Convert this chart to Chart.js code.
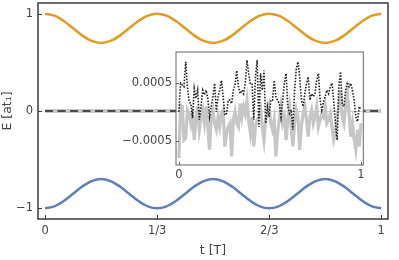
<!DOCTYPE html>
<html><head><meta charset="utf-8">
<script src="https://cdn.jsdelivr.net/npm/chart.js@4"></script>
<style>
html,body{margin:0;padding:0;background:#fff;overflow:hidden}
#wrap{position:relative;width:399px;height:260px}
#main{position:absolute;left:0;top:0;width:399px;height:260px}
#inset{position:absolute;left:120px;top:50px;width:250px;height:130px}
</style></head><body>
<div id="wrap">
<canvas id="main" width="399" height="260"></canvas>
<canvas id="inset" width="250" height="130"></canvas>
</div>
<script>
// ---- data ----
const upperBand = [1, 0.98, 0.925, 0.85, 0.775, 0.72, 0.7, 0.72, 0.775, 0.85, 0.925, 0.98,
  1, 0.98, 0.925, 0.85, 0.775, 0.72, 0.7, 0.72, 0.775, 0.85, 0.925, 0.98,
  1, 0.98, 0.925, 0.85, 0.775, 0.72, 0.7, 0.72, 0.775, 0.85, 0.925, 0.98, 1];
const lowerBand = [-1, -0.98, -0.925, -0.85, -0.775, -0.72, -0.7, -0.72, -0.775, -0.85, -0.925, -0.98,
  -1, -0.98, -0.925, -0.85, -0.775, -0.72, -0.7, -0.72, -0.775, -0.85, -0.925, -0.98,
  -1, -0.98, -0.925, -0.85, -0.775, -0.72, -0.7, -0.72, -0.775, -0.85, -0.925, -0.98, -1];
const zeroBand = [0, 0];
const xTickValues = [0, 1/3, 2/3, 1];
const xTickLabels = ['0', '1/3', '2/3', '1'];
const yTickValues = [-1, 0, 1];
const yTickLabels = ['\u22121', '0', '1'];

// inset values in units of 1e-4
const insetScale = 1e-4;
const insetDotted = [0, 4.9, 4.6, 4.3, 8.6, 4.3, 1.7, 1.4, -1.1, 4.0, 2.3, 3.7, -1.4, 0.9, 3.7, 2.9, 3.7, 2.3, -0.9, 0.9,
  2.6, 4.9, 0, 2.6, 3.7, 5.4, 2.6, -0.6, -0.3, 2.0, 2.0, 1.4, 3.7, 4.6, 7.1, 4.3, 3.1, 3.7, 3.1, 4.9,
  8.9, 6.6, 4.9, 4.9, -1.4, 6.0, 8.9, -2.6, 6.6, 3.7, 7.1, -2.0, 0.9, -0.9, 2.0, 2.0, 5.4, 2.6, 2.0, 1.4,
  -0.9, 2.0, 4.9, 6.6, 0.9, -0.3, 0.3, -3.1, 3.7, 7.4, 8.6, 6.0, 2.0, 0.9, 3.1, 4.9, 6.0, 2.0, 3.1, 2.6,
  3.1, 5.4, 6.6, 2.0, 0.3, 1.7, 2.6, 3.7, 3.1, 4.3, 4.9, 2.0, -2.0, -4.9, 4.3, 6.9, 1.4, 0.9, 3.7, 5.1,
  4.3, 4.9, 3.7, 2.0, -0.9, -1.7, 0.9, 0.3];
const insetGray = [-8.0, 1.1, 0.9, -4.9, -4.6, 0.3, -0.3, -2.0, 0.3, -4.9, -1.4, 0.9, -3.1, -0.9, 0.3, -2.0, 0.9, -2.6, -6.6, -0.9,
  0.3, -2.0, -3.1, -0.9, -2.6, -0.3, 0.3, -6.0, -3.7, -2.6, -2.0, -7.7, -1.4, 0, -2.0, -2.6, 1.4, -0.9, 0.9, -0.3,
  2.0, -1.4, -3.7, -0.9, -6.0, -2.6, -1.4, -0.9, 0.3, -2.6, -4.9, -1.4, -0.3, 0.9, -2.0, -3.1, -1.4, -7.7, -3.7, -1.4,
  0.9, -2.0, -0.9, -4.9, -1.4, 0.9, -2.6, -6.0, -2.0, 0.3, -0.9, -6.6, -2.6, -0.3, 0.9, -1.4, -4.3, -0.9, 0.3, -2.0,
  -0.9, 0.9, -2.6, -1.4, -0.3, -0.9, 0.9, -2.0, -1.4, -0.3, -2.6, -4.9, -3.7, -0.9, 0.9, 3.7, -0.9, -2.0, 0.9, 3.1,
  -0.3, -4.3, -2.0, -4.9, -6.6, -3.1, -6.0, -2.0];
const insetXTickValues = [0, 1];
const insetXTickLabels = ['0', '1'];
const insetYTickValues = [-0.0005, 0, 0.0005];
const insetYTickLabels = ['\u22120.0005', '', '0.0005'];

// ---- helpers ----
const toPts = (arr, k = 1) => arr.map((v, i) => ({x: i / (arr.length - 1), y: v * k}));
const FONT = {family: 'DejaVu Sans', size: 11.5};
const TFONT = {family: 'DejaVu Sans', size: 12.5};
const TXT = '#444';
const noPad = s => { s.paddingTop = 0; s.paddingBottom = 0; s.paddingLeft = 0; s.paddingRight = 0; };

const framePlugin = {
  id: 'frame',
  beforeDraw(chart, args, o) {
    if (!o.fill) return;
    const {ctx, chartArea: a} = chart;
    ctx.save(); ctx.fillStyle = o.fill;
    ctx.fillRect(a.left, a.top, a.right - a.left, a.bottom - a.top);
    ctx.restore();
  },
  afterDatasetsDraw(chart, args, o) {
    const {ctx, chartArea: a} = chart;
    ctx.save();
    ctx.strokeStyle = o.color; ctx.lineWidth = o.width;
    ctx.strokeRect(a.left, a.top, a.right - a.left, a.bottom - a.top);
    ctx.lineWidth = 1;
    const sx = chart.scales.x, sy = chart.scales.y;
    sx.ticks.forEach((t, i) => {
      if (!o.xLabels[i]) return;
      const p = Math.round(sx.getPixelForValue(t.value)) + 0.5;
      ctx.beginPath(); ctx.moveTo(p, a.bottom); ctx.lineTo(p, a.bottom - o.tick); ctx.stroke();
    });
    sy.ticks.forEach((t, i) => {
      if (!o.yLabels[i]) return;
      const p = Math.round(sy.getPixelForValue(t.value)) + 0.5;
      ctx.beginPath(); ctx.moveTo(a.left, p); ctx.lineTo(a.left + o.tick, p); ctx.stroke();
    });
    ctx.restore();
  }
};

// ---- main chart ----
new Chart(document.getElementById('main'), {
  type: 'line',
  data: {
    datasets: [
      {data: toPts(upperBand), borderColor: '#E09C24', borderWidth: 2.5, pointRadius: 0, cubicInterpolationMode: 'monotone'},
      {data: toPts(lowerBand), borderColor: '#5E81B5', borderWidth: 2.5, pointRadius: 0, cubicInterpolationMode: 'monotone'},
      {data: toPts(zeroBand), borderColor: '#4a4a4a', borderWidth: 2, borderDash: [8, 4.5], pointRadius: 0},
      {data: toPts(zeroBand), borderColor: '#c8c8c8', borderWidth: 4, pointRadius: 0}
    ]
  },
  options: {
    responsive: false, animation: false, devicePixelRatio: 1,
    layout: {padding: {top: 3, right: 11, left: 0, bottom: 0}},
    plugins: {legend: {display: false}, tooltip: {enabled: false},
      frame: {color: '#3a3a3a', width: 1.5, tick: 4, xLabels: xTickLabels, yLabels: yTickLabels}},
    scales: {
      x: {type: 'linear', min: -0.021, max: 1.02,
        afterBuildTicks: s => { s.ticks = xTickValues.map(v => ({value: v})); },
        afterFit: s => { s.height = 41; noPad(s); },
        ticks: {callback: (v, i) => xTickLabels[i], font: FONT, color: TXT, padding: 5, maxRotation: 0, autoSkip: false},
        grid: {display: false, drawTicks: false}, border: {display: false},
        title: {display: true, text: 't [T]', font: TFONT, color: TXT, padding: {top: 0, bottom: 2}}},
      y: {type: 'linear', min: -1.11, max: 1.11,
        afterBuildTicks: s => { s.ticks = yTickValues.map(v => ({value: v})); },
        afterFit: s => { s.width = 38; noPad(s); },
        ticks: {callback: (v, i) => yTickLabels[i], font: FONT, color: TXT, padding: 5, autoSkip: false},
        grid: {display: false, drawTicks: false}, border: {display: false},
        title: {display: true, text: 'E [at\u2081]', font: TFONT, color: TXT, padding: {top: 0, bottom: 0}}}
    }
  },
  plugins: [framePlugin]
});

// ---- inset chart ----
new Chart(document.getElementById('inset'), {
  type: 'line',
  data: {
    datasets: [
      {data: toPts(insetDotted, insetScale), borderColor: '#1e1e1e', borderWidth: 1.6, borderDash: [1.5, 1.5], pointRadius: 0, tension: 0},
      {data: toPts(insetGray, insetScale), borderColor: '#c6c6c6', borderWidth: 3.2, pointRadius: 0, tension: 0}
    ]
  },
  options: {
    responsive: false, animation: false, devicePixelRatio: 1,
    layout: {padding: {top: 2, right: 6.7, left: 0, bottom: 0}},
    plugins: {legend: {display: false}, tooltip: {enabled: false},
      frame: {color: '#666', width: 1, tick: 3, fill: '#fff', xLabels: insetXTickLabels, yLabels: insetYTickLabels}},
    scales: {
      x: {type: 'linear', min: -0.016, max: 1.013,
        afterBuildTicks: s => { s.ticks = insetXTickValues.map(v => ({value: v})); },
        afterFit: s => { s.height = 15; noPad(s); },
        ticks: {callback: (v, i) => insetXTickLabels[i], font: FONT, color: TXT, padding: 3, maxRotation: 0, autoSkip: false},
        grid: {display: false, drawTicks: false}, border: {display: false}},
      y: {type: 'linear', min: -0.00092, max: 0.00103,
        afterBuildTicks: s => { s.ticks = insetYTickValues.map(v => ({value: v})); },
        afterFit: s => { s.width = 56; noPad(s); },
        ticks: {callback: (v, i) => insetYTickLabels[i], font: FONT, color: TXT, padding: 4, autoSkip: false},
        grid: {display: true, drawTicks: false, color: c => (c.tick && c.tick.value === 0 ? '#d0d0d0' : 'rgba(0,0,0,0)'), lineWidth: 1},
        border: {display: false}}
    }
  },
  plugins: [framePlugin]
});
</script>
</body></html>
